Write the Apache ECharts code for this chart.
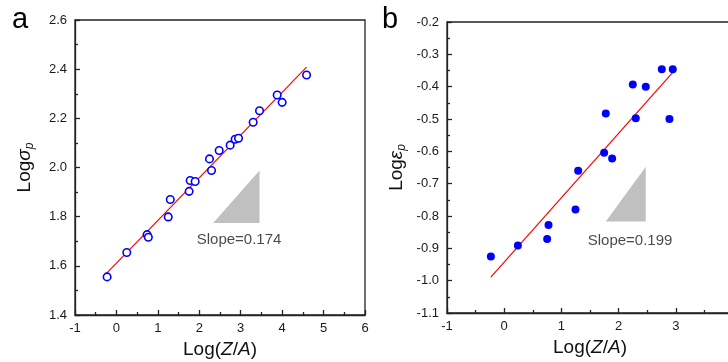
<!DOCTYPE html>
<html>
<head>
<meta charset="utf-8">
<script src="https://cdn.jsdelivr.net/npm/echarts@6/dist/echarts.min.js"></script>
<style>html,body{margin:0;padding:0;background:#fff}#c{width:728px;height:362px}</style>
</head>
<body>
<div id="c"></div>
<script>
// Panel a data: Log(Z/A) vs Log sigma_p
var xA = [-0.225, 0.25, 0.74, 0.77, 1.25, 1.30, 1.755, 1.78, 1.90, 2.246, 2.295, 2.48, 2.745, 2.866, 2.947, 3.30, 3.454, 3.88, 4.00, 4.59];
var yA = [1.555, 1.654, 1.727, 1.716, 1.799, 1.870, 1.903, 1.947, 1.943, 2.035, 1.988, 2.069, 2.091, 2.115, 2.119, 2.184, 2.231, 2.295, 2.265, 2.376];
var fitAx = [-0.28, 4.59];
var fitAy = [1.562, 2.408];
var triAx = [2.335, 3.454, 3.454];
var triAy = [1.774, 1.774, 1.988];
var labelA = 'Slope=0.174';
var labelApos = [2.96, 1.705];

// Panel b data: Log(Z/A) vs Log epsilon_p
var xB = [-0.233, 0.239, 0.751, 0.775, 1.246, 1.293, 1.747, 1.776, 1.887, 2.248, 2.30, 2.475, 2.755, 2.947, 2.889];
var yB = [-0.925, -0.891, -0.871, -0.828, -0.780, -0.660, -0.604, -0.483, -0.622, -0.393, -0.498, -0.400, -0.346, -0.346, -0.500];
var fitBx = [-0.233, 2.947];
var fitBy = [-0.989, -0.356];
var triBx = [1.776, 2.475, 2.475];
var triBy = [-0.817, -0.817, -0.6475];
var labelB = 'Slope=0.199';
var labelBpos = [2.2, -0.877];

var xTicksA = {min: -1, max: 6, interval: 1};
var yTicksA = {min: 1.4, max: 2.6, interval: 0.2};
var xTicksB = {min: -1, max: 4, interval: 1};
var yTicksB = {min: -1.1, max: -0.2, interval: 0.1};

function pairs(xs, ys) { return xs.map(function (x, i) { return [x, ys[i]]; }); }

var FONT = 'Liberation Sans, Arial, sans-serif';
var axisColor = '#222';

function xAxisCfg(idx, t) {
  return {
    type: 'value', gridIndex: idx, min: t.min, max: t.max, interval: t.interval,
    name: 'Log({i|Z}/{i|A})', nameLocation: 'middle', nameGap: 20,
    nameTextStyle: {fontFamily: FONT, fontSize: 19, color: '#111',
      rich: {i: {fontFamily: FONT, fontSize: 19, fontStyle: 'italic', color: '#111'}}},
    axisLine: {show: true, onZero: false, lineStyle: {color: axisColor, width: 1.3}},
    axisTick: {show: true, inside: true, length: 5, lineStyle: {color: axisColor, width: 1.3}},
    minorTick: {show: true, splitNumber: 2, length: 3, lineStyle: {color: axisColor, width: 1.3}},
    axisLabel: {fontFamily: FONT, fontSize: 13, color: '#1a1a1a', margin: 7,
      formatter: function (v) { return String(Math.round(v)); }},
    splitLine: {show: false}
  };
}
function yAxisCfg(idx, t, name, decimals) {
  return {
    type: 'value', gridIndex: idx, min: t.min, max: t.max, interval: t.interval,
    name: name, nameLocation: 'middle', nameGap: 39, nameRotate: 90,
    nameTextStyle: {fontFamily: FONT, fontSize: 19, color: '#111',
      rich: {
        g: {fontFamily: FONT, fontSize: 19, fontStyle: 'italic', color: '#111'},
        sub: {fontFamily: FONT, fontSize: 12, fontStyle: 'italic', color: '#111', padding: [10, 0, 0, 0]}
      }},
    axisLine: {show: true, onZero: false, lineStyle: {color: axisColor, width: 1.3}},
    axisTick: {show: true, inside: true, length: 5, lineStyle: {color: axisColor, width: 1.3}},
    minorTick: {show: true, splitNumber: 2, length: 3, lineStyle: {color: axisColor, width: 1.3}},
    axisLabel: {fontFamily: FONT, fontSize: 13, color: '#1a1a1a', margin: 8,
      formatter: function (v) { return v.toFixed(decimals); }},
    splitLine: {show: false}
  };
}

function triSeries(idx, xs, ys) {
  return {
    type: 'custom', xAxisIndex: idx, yAxisIndex: idx, silent: true, z: 1,
    data: [[0]],
    renderItem: function (params, api) {
      var pts = xs.map(function (x, i) { return api.coord([x, ys[i]]); });
      return {type: 'polygon', shape: {points: pts}, style: {fill: '#c0c0c0', stroke: null}};
    }
  };
}
function labelSeries(idx, pos, text) {
  return {
    type: 'scatter', xAxisIndex: idx, yAxisIndex: idx, symbolSize: 0, silent: true,
    data: [pos],
    label: {show: true, position: 'inside', formatter: text, fontFamily: FONT, fontSize: 15, color: '#1a1a1a'}
  };
}

var chart = echarts.init(document.getElementById('c'), null, {renderer: 'canvas'});
chart.setOption({
  animation: false,
  backgroundColor: '#fff',
  title: [
    {text: 'a', left: 7, top: 0, textStyle: {fontFamily: FONT, fontSize: 29, fontWeight: 'normal', color: '#000'}},
    {text: 'b', left: 377, top: 0, textStyle: {fontFamily: FONT, fontSize: 29, fontWeight: 'normal', color: '#000'}}
  ],
  grid: [
    {left: 75, top: 20, width: 290, height: 295, show: true, borderColor: axisColor, borderWidth: 1.3,
      backgroundColor: 'transparent', containLabel: false, outerBoundsMode: 'none'},
    {left: 447, top: 22, width: 286, height: 291, show: true, borderColor: axisColor, borderWidth: 1.3,
      backgroundColor: 'transparent', containLabel: false, outerBoundsMode: 'none'}
  ],
  xAxis: [xAxisCfg(0, xTicksA), xAxisCfg(1, xTicksB)],
  yAxis: [
    yAxisCfg(0, yTicksA, 'Log{g|σ}{sub|p}', 1),
    yAxisCfg(1, yTicksB, 'Log{g|ε}{sub|p}', 1)
  ],
  series: [
    triSeries(0, triAx, triAy),
    {type: 'line', xAxisIndex: 0, yAxisIndex: 0, data: pairs(fitAx, fitAy), symbol: 'none',
      lineStyle: {color: '#ff0000', width: 1.2}, z: 2},
    {type: 'scatter', xAxisIndex: 0, yAxisIndex: 0, data: pairs(xA, yA), symbol: 'circle', symbolSize: 7.5,
      itemStyle: {color: '#fff', borderColor: '#0000ff', borderWidth: 1.6, opacity: 1}, z: 3},
    labelSeries(0, labelApos, labelA),
    triSeries(1, triBx, triBy),
    {type: 'line', xAxisIndex: 1, yAxisIndex: 1, data: pairs(fitBx, fitBy), symbol: 'none',
      lineStyle: {color: '#ff0000', width: 1.2}, z: 2},
    {type: 'scatter', xAxisIndex: 1, yAxisIndex: 1, data: pairs(xB, yB), symbol: 'circle', symbolSize: 8,
      itemStyle: {color: '#0000ff', opacity: 1}, z: 3},
    labelSeries(1, labelBpos, labelB)
  ]
});
</script>
</body>
</html>
